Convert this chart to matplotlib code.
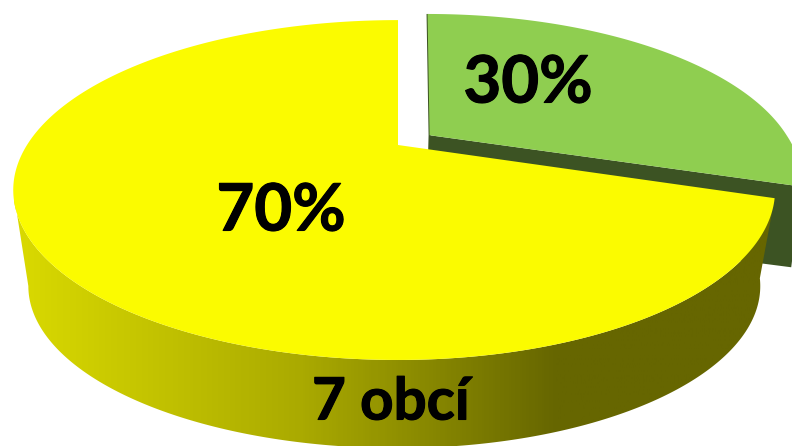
import numpy as np
import matplotlib
matplotlib.use('Agg')
import matplotlib.pyplot as plt
import matplotlib.patheffects as pe
from matplotlib.colors import LinearSegmentedColormap
from matplotlib.patches import Polygon

shares = [70, 30]
share_labels = ['70%', '30%']
note_label = '7 obcí'

# projection of the tilted disc, in pixels
CX, CY = 398, 145
W, H, A = 371, 158, 0.265
W2, H2, A2 = 346, 142, 0.352  # bottom rim
DEPTH = 84
RIGHT_SCALE = 0.98
EXPLODE = 0.107


def project(theta, offset=0.0, mid=0.0, bottom=False):
    u = np.cos(theta) + offset * np.cos(mid)
    v = np.sin(theta) + offset * np.sin(mid)
    if bottom:
        d = 1 + A2 * v
        x = W2 * u / d
        x = np.where(x > 0, x * RIGHT_SCALE, x)
        return CX + x, CY + DEPTH - H2 * v / d
    d = 1 + A * v
    x = W * u / d
    x = np.where(x > 0, x * RIGHT_SCALE, x)
    return CX + x, CY - H * v / d


def apex(offset=0.0, mid=0.0, bottom=False):
    u = offset * np.cos(mid)
    v = offset * np.sin(mid)
    if bottom:
        d = 1 + A2 * v
        return CX + W2 * u / d, CY + DEPTH - H2 * v / d
    d = 1 + A * v
    return CX + W * u / d, CY - H * v / d


fig = plt.figure(figsize=(7.92, 4.46), dpi=100)
ax = fig.add_axes([0, 0, 1, 1])
ax.axis('off')

start = np.pi / 2
yellow_sweep = 2 * np.pi * shares[0] / sum(shares)
green_sweep = 2 * np.pi * shares[1] / sum(shares)
cut = start - green_sweep
green_mid = start - green_sweep / 2

# green slice, walls first
t = np.linspace(start, cut, 200)
tx, ty = project(t, EXPLODE, green_mid)
tx = tx + 5 * np.clip(np.sin(t), 0, 1)
bx, by = project(t, EXPLODE, green_mid, bottom=True)
ax0, ay0 = apex(EXPLODE, green_mid)
bx0, by0 = apex(EXPLODE, green_mid, bottom=True)
wall = [(ax0, ay0), (tx[-1], ty[-1]), (bx[-1] + 8, by[-1]), (bx0, by0)]
ax.add_patch(Polygon(wall, closed=True, fc='#3c5323', ec='none', zorder=1))
wall2 = [(ax0 - 1, ay0), (tx[0] - 1, ty[0]), (tx[0] + 1, ty[0]), (ax0 + 1, ay0), (bx0 + 1, by0), (bx0 - 1, by0)]
ax.add_patch(Polygon(wall2, closed=True, fc='#3c5323', ec='none', zorder=1))
top_green = np.column_stack([np.r_[ax0, tx], np.r_[ay0, ty]])
ax.add_patch(Polygon(top_green, closed=True, fc='#8fce50', ec='none', zorder=2))

# yellow slice side, shaded left to right
t_top = np.linspace(cut, -np.pi - np.arcsin(-A), 300)
t_bot = np.linspace(cut, -np.pi - np.arcsin(-A2), 300)
tx, ty = project(t_top)
bx, by = project(t_bot, bottom=True)
side = np.column_stack([np.r_[tx, bx[::-1]], np.r_[ty, by[::-1]]])
side_patch = Polygon(side, closed=True, fc='none', ec='none', transform=ax.transData)
ax.add_patch(side_patch)
cmap = LinearSegmentedColormap.from_list('side', [(0, '#dada00'), (0.37, '#aaaa00'), (0.70, '#666600'), (1, '#666600')])
im = ax.imshow(np.linspace(0, 1, 400).reshape(1, -1), cmap=cmap, extent=[14, 790, 446, 0],
               aspect='auto', zorder=3)
im.set_clip_path(side_patch)

# yellow top
t = np.linspace(start, start + yellow_sweep, 400)
tx, ty = project(t)
top_yellow = np.column_stack([np.r_[CX, tx], np.r_[CY, ty]])
ax.add_patch(Polygon(top_yellow, closed=True, fc='#fbfb00', ec='none', zorder=4))

ax.set_xlim(0, 792)
ax.set_ylim(446, 0)

font = dict(family='Lato', fontweight='bold', color='black', ha='center', va='center', zorder=5,
            path_effects=[pe.withStroke(linewidth=0.8, foreground='black')])
ax.text(281, 212, share_labels[0], fontsize=47, **font)
ax.text(528, 84, share_labels[1], fontsize=47, **font)
ax.text(391, 403, note_label, fontsize=42, **font)

fig.savefig('out.png', dpi=100)
